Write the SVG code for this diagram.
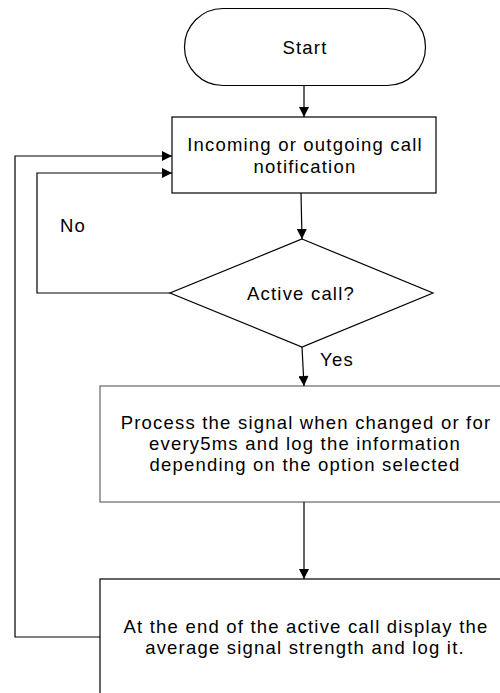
<svg xmlns="http://www.w3.org/2000/svg" width="500" height="693" viewBox="0 0 500 693">
<defs>
<marker id="ah" viewBox="0 0 10 10" refX="10" refY="5" markerWidth="11" markerHeight="10" markerUnits="userSpaceOnUse" orient="auto">
<path d="M0,0 L10,5 L0,10 z" fill="#000"/>
</marker>
</defs>
<style>
.shape{fill:#fff;stroke:#000;stroke-width:1.2}
.gray{stroke:#666}
.t{font-family:"Liberation Sans",Arial,sans-serif;font-size:18.5px;letter-spacing:1.2px;fill:#000;text-anchor:middle}
.c{fill:none;stroke:#000;stroke-width:1.2;marker-end:url(#ah)}
</style>
<g id="start">
<rect class="shape" x="184.5" y="8.5" width="241" height="77" rx="38.5" ry="38.5"/>
<text class="t" x="305" y="54">Start</text>
</g>
<g id="notification">
<rect class="shape" x="172" y="117" width="264" height="76"/>
<text class="t" x="305" y="151">Incoming or outgoing call</text>
<text class="t" x="305" y="173">notification</text>
</g>
<g id="decision">
<polygon class="shape" points="302,239 433,293 302,347 170,293"/>
<text class="t" x="301" y="300">Active call?</text>
</g>
<g id="process">
<rect class="shape gray" x="100" y="386" width="420" height="116"/>
<text class="t" x="306" y="429">Process the signal when changed or for</text>
<text class="t" x="305" y="450">every5ms and log the information</text>
<text class="t" x="305" y="471">depending on the option selected</text>
</g>
<g id="display">
<rect class="shape" x="100" y="579" width="420" height="130"/>
<text class="t" x="306" y="633">At the end of the active call display the</text>
<text class="t" x="305" y="654">average signal strength and log it.</text>
</g>
<g id="connectors">
<line class="c" x1="304" y1="85" x2="304" y2="117"/>
<line class="c" x1="301" y1="193" x2="302" y2="239"/>
<line class="c" x1="302" y1="347" x2="304" y2="386"/>
<line class="c" x1="304" y1="502" x2="304" y2="579"/>
<polyline class="c" points="170,293 37,293 37,173 172,173"/>
<polyline class="c" points="100,637 15,637 15,156 172,156"/>
<text class="t" x="73" y="232">No</text>
<text class="t" x="337" y="366">Yes</text>
</g>
</svg>
